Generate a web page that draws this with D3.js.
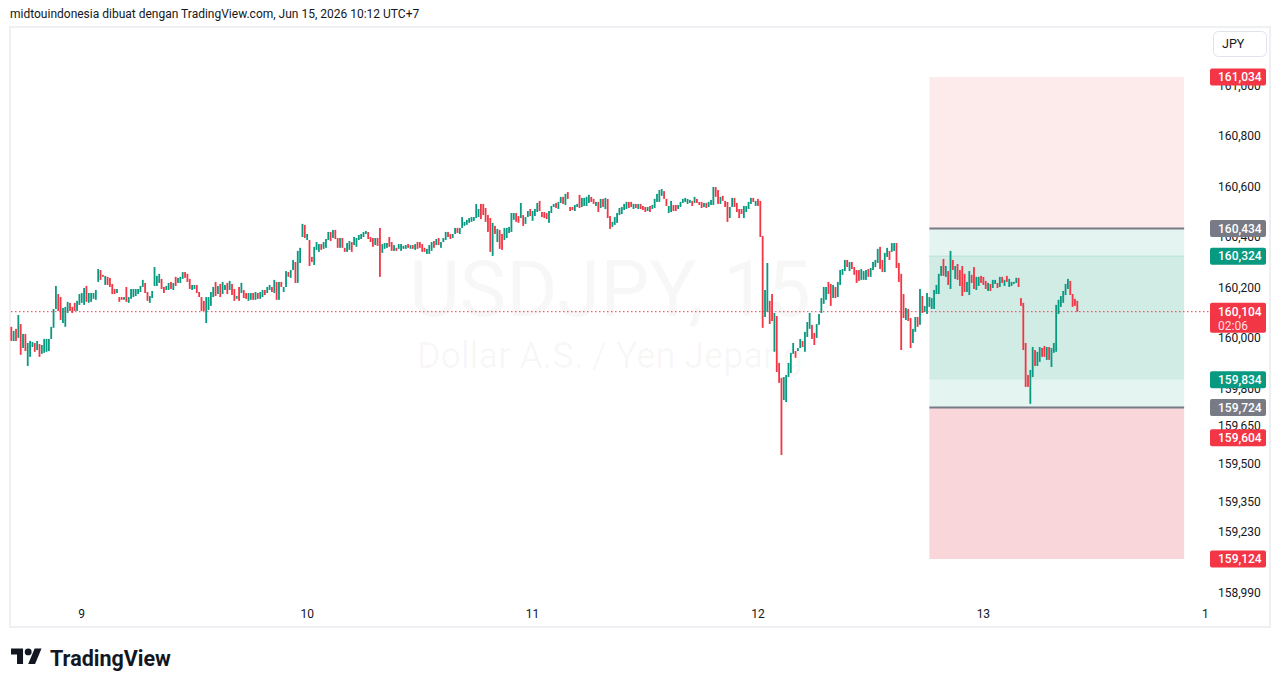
<!DOCTYPE html>
<html>
<head>
<meta charset="utf-8">
<script src="https://cdn.jsdelivr.net/npm/d3@7"></script>
<style>
html, body { margin: 0; padding: 0; background: #fff; }
svg { display: block; }
</style>
</head>
<body>
<svg id="chart"></svg>
<script>
const W = 1281, H = 688;
const UP = "#089981", DOWN = "#F23645", GREY = "#787B86", INK = "#131722";

// USDJPY 15m candles (open / close)
const opens = [
  160.044,159.988,160.036,160.000,160.055,159.960,160.016,159.889,159.925,159.964,
  159.980,159.952,159.976,159.937,159.941,159.945,159.948,159.996,160.040,160.115,
  160.174,160.162,160.059,160.044,160.099,160.139,160.123,160.139,160.107,160.131,
  160.139,160.131,160.206,160.139,160.143,160.155,160.151,160.222,160.269,160.250,
  160.210,160.242,160.238,160.214,160.194,160.178,160.162,160.162,160.151,160.202,
  160.139,160.155,160.162,160.166,160.174,160.182,160.202,160.218,160.182,160.139,
  160.158,160.206,160.206,160.218,160.234,160.202,160.190,160.190,160.222,160.190,
  160.242,160.218,160.218,160.234,160.261,160.254,160.234,160.190,160.194,160.210,
  160.182,160.162,160.147,160.059,160.111,160.127,160.162,160.222,160.174,160.214,
  160.174,160.190,160.218,160.190,160.214,160.194,160.155,160.202,160.178,160.190,
  160.178,160.147,160.151,160.178,160.151,160.178,160.155,160.162,160.190,160.178,
  160.190,160.202,160.178,160.222,160.151,160.222,160.182,160.202,160.261,160.238,
  160.269,160.301,160.218,
  160.297,160.400,160.448,160.388,160.388,160.321,160.289,
  160.349,160.341,160.372,160.353,160.357,160.388,160.420,160.396,160.428,160.396,
  160.357,160.396,160.357,160.341,160.349,160.380,160.368,160.361,160.388,160.392,
  160.400,160.412,160.420,160.400,160.396,160.368,160.396,160.436,160.337,160.353,
  160.357,160.400,160.380,160.345,160.357,160.353,160.345,160.353,160.353,160.372,
  160.353,160.368,160.349,160.380,160.380,160.372,160.357,160.333,160.333,160.345,
  160.384,160.368,160.396,160.357,160.380,160.388,160.420,160.412,160.396,160.412,
  160.436,160.412,160.436,160.444,160.448,160.456,160.460,160.464,160.475,160.479,
  160.531,160.531,160.515,160.487,160.475,160.325,160.444,160.380,160.428,160.412,
  160.388,160.396,160.416,160.420,160.468,160.495,160.483,
  160.475,160.487,160.452,
  160.479,160.511,160.464,160.483,160.499,160.543,160.499,160.499,160.495,160.456,
  160.495,160.519,160.535,160.511,160.535,160.559,160.527,160.578,160.519,160.519,
  160.503,160.519,160.567,160.519,160.523,160.523,160.535,160.559,160.551,160.523,
  160.539,160.515,160.551,160.511,160.551,160.483,160.440,160.448,160.456,160.487,
  160.491,160.507,160.511,160.539,160.539,160.511,160.531,160.511,160.531,160.523,
  160.519,160.503,160.523,160.511,160.515,160.539,160.539,160.563,160.582,160.551,
  160.495,160.499,160.527,160.527,160.511,160.519,160.535,160.539,160.531,160.535,
  160.543,160.535,160.551,160.539,160.539,160.519,160.535,160.519,160.527,160.527,
  160.598,160.586,160.531,160.563,160.543,160.539,160.475,160.519,160.555,160.535,
  160.511,160.511,160.475,160.499,160.511,160.531,160.555,160.523,160.551,
  160.543,160.404,160.083,160.103,160.147,160.174,159.945,160.087,159.901,159.842,159.754,
  159.746,159.845,159.861,159.937,159.948,159.948,159.960,159.988,159.945,160.004,
  160.036,160.052,160.020,160.000,160.052,160.099,160.135,160.151,160.222,160.214,
  160.158,160.202,160.162,160.210,160.250,160.265,160.309,160.265,160.301,160.281,
  160.269,160.269,160.230,160.230,160.230,160.273,160.242,160.269,160.281,160.297,
  160.361,160.309,160.261,160.321,160.345,160.341,160.345,160.376,160.297,
  160.254,160.174,160.071,160.115,160.079,159.980,160.024,160.083,160.052,160.166,160.103,
  160.095,160.123,160.115,160.115,160.174,160.174,160.246,160.313,160.242,160.265,
  160.194,160.309,160.234,160.293,160.269,160.285,160.254,160.182,160.170,160.250,
  160.281,160.190,160.206,160.246,160.242,160.226,160.186,160.214,160.198,160.214,
  160.218,160.202,160.242,160.206,160.246,160.202,160.206,160.214,160.218,160.238,
  160.158,160.139,159.980,159.853,159.739,159.845,159.952,159.889,159.905,159.960,
  159.968,159.913,159.964,159.885,159.941,159.945,160.095,160.123,160.139,160.170,
  160.194,160.226,160.174,160.155,160.147
];
const closes = [
  159.988,160.028,159.988,160.091,159.933,160.016,159.948,159.980,159.988,159.984,
  159.945,159.988,159.925,159.972,159.996,159.996,159.996,160.044,160.115,160.206,
  160.107,160.071,160.119,160.123,160.143,160.107,160.099,160.107,160.147,160.174,
  160.178,160.198,160.143,160.178,160.178,160.178,160.190,160.273,160.230,160.242,
  160.246,160.210,160.202,160.174,160.174,160.194,160.143,160.151,160.162,160.143,
  160.162,160.194,160.194,160.194,160.194,160.206,160.230,160.178,160.147,160.166,
  160.186,160.281,160.246,160.254,160.194,160.178,160.206,160.218,160.194,160.218,
  160.206,160.238,160.242,160.261,160.238,160.222,160.194,160.210,160.210,160.178,
  160.162,160.107,160.107,160.162,160.162,160.182,160.202,160.166,160.206,160.162,
  160.222,160.210,160.174,160.226,160.170,160.147,160.166,160.147,160.218,160.158,
  160.155,160.178,160.178,160.151,160.182,160.155,160.182,160.190,160.170,160.202,
  160.210,160.182,160.230,160.151,160.222,160.202,160.202,160.265,160.242,160.269,
  160.309,160.218,160.345,
  160.357,160.452,160.396,160.412,160.285,160.301,160.361,
  160.380,160.372,160.349,160.380,160.392,160.420,160.384,160.428,160.392,160.357,
  160.396,160.357,160.341,160.376,160.384,160.341,160.400,160.396,160.408,160.412,
  160.420,160.424,160.392,160.380,160.361,160.396,160.365,160.242,160.372,160.376,
  160.376,160.361,160.345,160.368,160.345,160.372,160.372,160.365,160.368,160.357,
  160.368,160.353,160.372,160.353,160.357,160.341,160.341,160.353,160.368,160.380,
  160.357,160.392,160.368,160.380,160.396,160.420,160.400,160.392,160.412,160.436,
  160.416,160.436,160.479,160.460,160.468,160.475,160.479,160.479,160.531,160.511,
  160.471,160.487,160.460,160.420,160.341,160.456,160.412,160.432,160.353,160.349,
  160.436,160.436,160.440,160.495,160.495,160.460,160.456,
  160.535,160.444,160.479,
  160.503,160.483,160.503,160.511,160.535,160.503,160.479,160.475,160.471,160.503,
  160.523,160.531,160.515,160.539,160.559,160.531,160.571,160.551,160.503,160.507,
  160.527,160.531,160.515,160.555,160.555,160.559,160.567,160.539,160.531,160.539,
  160.499,160.551,160.519,160.555,160.475,160.432,160.460,160.479,160.495,160.515,
  160.519,160.531,160.539,160.515,160.519,160.531,160.515,160.531,160.511,160.507,
  160.499,160.519,160.499,160.527,160.551,160.571,160.586,160.590,160.551,160.523,
  160.523,160.543,160.503,160.503,160.527,160.539,160.551,160.555,160.551,160.547,
  160.523,160.559,160.535,160.527,160.515,160.535,160.515,160.539,160.547,160.598,
  160.559,160.531,160.559,160.543,160.519,160.460,160.519,160.555,160.519,160.499,
  160.475,160.491,160.523,160.523,160.539,160.555,160.539,160.543,160.523,
  160.400,160.040,160.190,160.297,160.055,160.067,160.099,159.865,159.822,159.536,159.845,
  159.853,159.901,159.941,159.980,159.921,159.960,159.996,159.964,160.024,160.063,
  160.099,159.996,159.972,160.055,160.095,160.158,160.202,160.202,160.174,160.127,
  160.210,160.158,160.222,160.269,160.273,160.309,160.281,160.301,160.273,160.250,
  160.218,160.226,160.273,160.265,160.269,160.242,160.277,160.301,160.309,160.353,
  160.273,160.261,160.337,160.357,160.309,160.376,160.376,160.277,160.222,
  159.952,160.079,160.119,160.067,159.960,160.036,160.083,160.044,160.194,160.099,160.127,
  160.178,160.162,160.158,160.190,160.210,160.254,160.285,160.246,160.285,160.210,
  160.345,160.269,160.285,160.230,160.206,160.166,160.182,160.222,160.265,160.218,
  160.194,160.242,160.242,160.218,160.210,160.194,160.218,160.186,160.230,160.230,
  160.198,160.242,160.218,160.230,160.222,160.234,160.222,160.222,160.238,160.202,
  160.127,159.952,159.806,159.806,159.873,159.964,159.889,159.945,159.964,159.925,
  159.925,159.964,159.913,159.960,159.980,160.131,160.151,160.166,160.186,160.214,
  160.234,160.170,160.123,160.127,160.104
];

// day boundaries on the time axis (candle index)
const dayTicks = [30, 126, 222, 318, 414, 508.5];
const dayLabels = ["9", "10", "11", "12", "13", "1"];

// price axis ticks
const priceTicks = [161.000, 160.800, 160.600, 160.400, 160.200, 160.000,
                    159.800, 159.650, 159.500, 159.350, 159.230, 158.990];

// drawing (position boxes) levels
const boxSpan = [391, 499.5];
const boxLevels = [161.034, 160.434, 160.324, 159.834, 159.724, 159.124];

// highlighted labels on the price axis
const markPrices = [161.034, 160.434, 160.324, 159.834, 159.724, 159.604, 159.124];
const markColors = [DOWN, GREY, UP, UP, GREY, DOWN, DOWN];
const lastPrice = 160.104;
const countdown = "02:06";

const fmt = v => d3.format(".3f")(v).replace(".", ",");

const svg = d3.select("#chart").attr("width", W).attr("height", H)
    .style("font-family", "Roboto, sans-serif");

const x = d3.scaleLinear().domain([0, opens.length - 1]).range([11.3, 1077.3]);
const y = d3.scaleLinear().domain([159.124, 161.034]).range([559, 77]);

// header
svg.append("text")
    .attr("x", 10).attr("y", 18)
    .attr("font-size", 12).attr("fill", INK)
    .text("midtouindonesia dibuat dengan TradingView.com, Jun 15, 2026 10:12 UTC+7");

// frame
svg.append("rect")
    .attr("x", 10).attr("y", 27).attr("width", 1260).attr("height", 600)
    .attr("fill", "#fff").attr("stroke", "#eef0f4").attr("stroke-width", 2);

// watermark
const wm = svg.append("g").attr("fill", "#131722").attr("fill-opacity", 0.035)
    .attr("text-anchor", "middle");
wm.append("text").attr("x", 610).attr("y", 316).attr("font-size", 78)
    .text("USDJPY, 15");
wm.append("text").attr("x", 610).attr("y", 368).attr("font-size", 36)
    .text("Dollar A.S. / Yen Jepang");

// position boxes
const bx0 = x(boxSpan[0]), bx1 = x(boxSpan[1]);
const boxFills = ["#fdebec", "#e4f4f0", "#d1ebe5", "#e4f4f0", "#f9d6d9"];
const boxes = svg.append("g");
boxes.selectAll("rect")
    .data(d3.pairs(boxLevels))
    .join("rect")
    .attr("x", bx0).attr("width", bx1 - bx0)
    .attr("y", d => y(d[0])).attr("height", d => y(d[1]) - y(d[0]))
    .attr("fill", (d, i) => boxFills[i]);
boxes.append("line")
    .attr("x1", bx0).attr("x2", bx1)
    .attr("y1", y(boxLevels[2])).attr("y2", y(boxLevels[2]))
    .attr("stroke", "#b6e0d6").attr("stroke-width", 1);
boxes.selectAll("line.entry")
    .data([boxLevels[1], boxLevels[4]])
    .join("line").attr("class", "entry")
    .attr("x1", bx0).attr("x2", bx1)
    .attr("y1", d => y(d)).attr("y2", d => y(d))
    .attr("stroke", GREY).attr("stroke-width", 2);

// candles
const idx = d3.range(opens.length);
svg.append("g").selectAll("rect")
    .data(idx)
    .join("rect")
    .attr("x", i => x(i) - 0.9)
    .attr("width", 1.8)
    .attr("y", i => y(Math.max(opens[i], closes[i])))
    .attr("height", i => Math.max(1, Math.abs(y(opens[i]) - y(closes[i]))))
    .attr("fill", i => closes[i] >= opens[i] ? UP : DOWN);

// last price line
svg.append("line")
    .attr("x1", 11).attr("x2", 1210)
    .attr("y1", y(lastPrice)).attr("y2", y(lastPrice))
    .attr("stroke", DOWN).attr("stroke-width", 1)
    .attr("stroke-dasharray", "1.5 2.5");

// price axis
const axisX = 1218;
svg.append("g").selectAll("text")
    .data(priceTicks)
    .join("text")
    .attr("x", axisX).attr("y", d => y(d)).attr("dy", "0.35em")
    .attr("font-size", 12).attr("fill", INK)
    .text(fmt);

const marks = svg.append("g");
markPrices.forEach((p, i) => {
    marks.append("rect")
        .attr("x", 1210).attr("y", y(p) - 8.5).attr("width", 56).attr("height", 17)
        .attr("rx", 2).attr("fill", markColors[i]);
    marks.append("text")
        .attr("x", axisX).attr("y", y(p)).attr("dy", "0.35em")
        .attr("font-size", 12).attr("font-weight", 500).attr("fill", "#fff").text(fmt(p));
});
marks.append("rect")
    .attr("x", 1210).attr("y", y(lastPrice) - 9).attr("width", 56).attr("height", 30)
    .attr("rx", 2).attr("fill", DOWN);
marks.append("text")
    .attr("x", axisX).attr("y", y(lastPrice)).attr("dy", "0.35em")
    .attr("font-size", 12).attr("font-weight", 500).attr("fill", "#fff").text(fmt(lastPrice));
marks.append("text")
    .attr("x", axisX).attr("y", y(lastPrice) + 14).attr("dy", "0.35em")
    .attr("font-size", 12).attr("fill", "#fff").attr("fill-opacity", 0.85).text(countdown);

// currency button
svg.append("rect")
    .attr("x", 1213.5).attr("y", 31.5).attr("width", 53).attr("height", 25).attr("rx", 5)
    .attr("fill", "#fff").attr("stroke", "#e0e3eb");
svg.append("text")
    .attr("x", 1222).attr("y", 44).attr("dy", "0.35em")
    .attr("font-size", 12.5).attr("fill", INK).text("JPY");

// time axis
svg.append("g").selectAll("text")
    .data(dayTicks)
    .join("text")
    .attr("x", d => x(d)).attr("y", 614).attr("dy", "0.35em")
    .attr("text-anchor", "middle")
    .attr("font-size", 12).attr("fill", INK)
    .text((d, i) => dayLabels[i]);

// logo
const logo = svg.append("g").attr("fill", INK);
logo.append("path")
    .attr("transform", "translate(11,645) scale(0.86)")
    .attr("d", "M14 22H7V11H0V4h14v18zM28 22h-8l7.5-18h8L28 22z");
logo.append("circle")
    .attr("transform", "translate(11,645) scale(0.86)")
    .attr("cx", 20).attr("cy", 8).attr("r", 4);
logo.append("text")
    .attr("x", 50).attr("y", 666)
    .attr("font-size", 21.5).attr("font-weight", 700)
    .text("TradingView");
</script>
</body>
</html>
